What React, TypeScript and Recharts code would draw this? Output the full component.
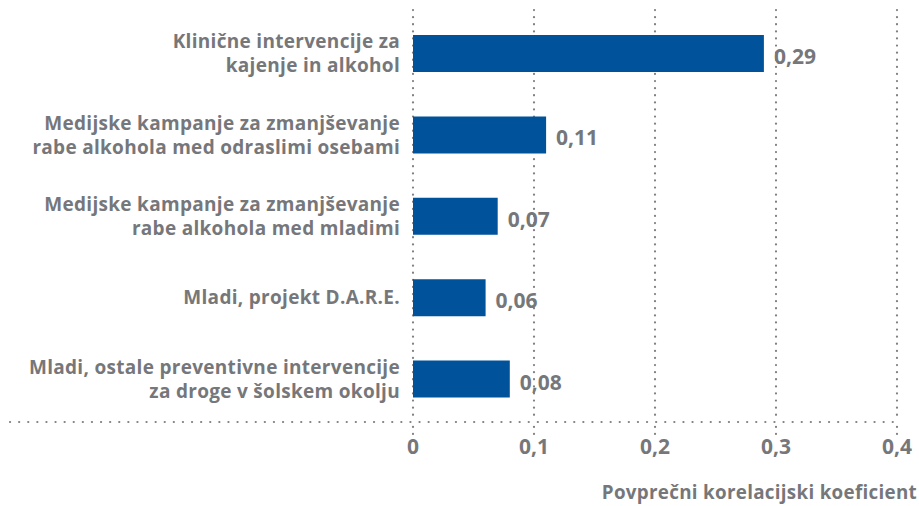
import React from 'react';
import * as R from 'recharts';
import { BarChart, Bar, XAxis, YAxis, CartesianGrid, LabelList } from 'recharts';

const categories = [
  'Klinične intervencije za\nkajenje in alkohol',
  'Medijske kampanje za zmanjševanje\nrabe alkohola med odraslimi osebami',
  'Medijske kampanje za zmanjševanje\nrabe alkohola med mladimi',
  'Mladi, projekt D.A.R.E.',
  'Mladi, ostale preventivne intervencije\nza droge v šolskem okolju',
];
const values = [0.29, 0.11, 0.07, 0.06, 0.08];
const xTicks = [0, 0.1, 0.2, 0.3, 0.4];
const axisTitle = 'Povprečni korelacijski koeficient';

const data = categories.map((name, i) => ({ name, value: values[i] }));

const GRAY = '#76777a';
const DOT = '#808083';
const BLUE = '#00529b';
const FONT = '"Open Sans", Lato, sans-serif';
const LABEL_SIZE = 19;

const fmt = (v: number) => String(v).replace('.', ',');

function CategoryTick(props: any) {
  const { x, y, payload } = props;
  const lines = String(payload.value).split('\n');
  const lh = 24;
  const startY = y - ((lines.length - 1) * lh) / 2;
  return (
    <text
      x={x}
      y={startY}
      textAnchor="end"
      fill={GRAY}
      fontSize={LABEL_SIZE}
      fontWeight={700}
      fontFamily={FONT}
      letterSpacing={0.3}
    >
      {lines.map((l, i) => (
        <tspan key={i} x={x} y={startY + i * lh} dy={6.5}>
          {l}
        </tspan>
      ))}
    </text>
  );
}

// dotted baseline that runs under the category labels as well
function BaseLine() {
  const hook = (R as any).usePlotArea || (R as any).useOffset;
  const area = hook ? hook() : null;
  if (!area) return null;
  const top = area.y ?? area.top;
  const h = area.height ?? 0;
  const left = area.x ?? area.left;
  const w = area.width ?? 0;
  const y = top + h + 2;
  return (
    <line
      x1={10}
      x2={left + w}
      y1={y}
      y2={y}
      stroke={DOT}
      strokeWidth={2.2}
      strokeDasharray="0.1 9"
      strokeLinecap="round"
    />
  );
}

export default function App() {
  return (
    <div style={{ width: 919, height: 506, background: '#fff' }}>
      <style>{'body{margin:0}'}</style>
      <BarChart
        width={919}
        height={506}
        data={data}
        layout="vertical"
        margin={{ top: 13, right: 22, left: 0, bottom: 0 }}
        barCategoryGap="27%"
      >
        <CartesianGrid
          horizontal={false}
          stroke={DOT}
          strokeWidth={2.2}
          strokeDasharray="0.1 7"
          strokeLinecap="round"
          y={10}
        />
        <XAxis
          type="number"
          domain={[0, 0.4]}
          ticks={xTicks}
          tickFormatter={fmt}
          axisLine={false}
          tickSize={14}
          tickLine={{ stroke: DOT, strokeWidth: 2.2, strokeDasharray: '0.1 7', strokeLinecap: 'round' } as any}
          tick={{ fill: GRAY, fontSize: 21, fontWeight: 700, fontFamily: FONT, dy: 3 }}
          height={86}
          interval={0}
          label={{
            content: (p: any) => {
              const vb = p.viewBox || {};
              return (
                <text
                  x={vb.x + vb.width + 20}
                  y={vb.y + 79}
                  textAnchor="end"
                  fill={GRAY}
                  fontSize={18.8}
                  fontWeight={700}
                  fontFamily={FONT}
                  letterSpacing={0.3}
                >
                  {axisTitle}
                </text>
              );
            },
          }}
        />
        <YAxis
          type="category"
          dataKey="name"
          width={413}
          axisLine={false}
          tickLine={false}
          tickSize={0}
          tickMargin={13}
          tick={<CategoryTick />}
          interval={0}
        />
        <Bar dataKey="value" fill={BLUE} isAnimationActive={false}>
          <LabelList
            dataKey="value"
            position="right"
            offset={10}
            formatter={(v: any) => fmt(v)}
            fill={GRAY}
            fontSize={21}
            fontWeight={700}
            fontFamily={FONT}
            dy={3}
          />
        </Bar>
        <BaseLine />
      </BarChart>
    </div>
  );
}
